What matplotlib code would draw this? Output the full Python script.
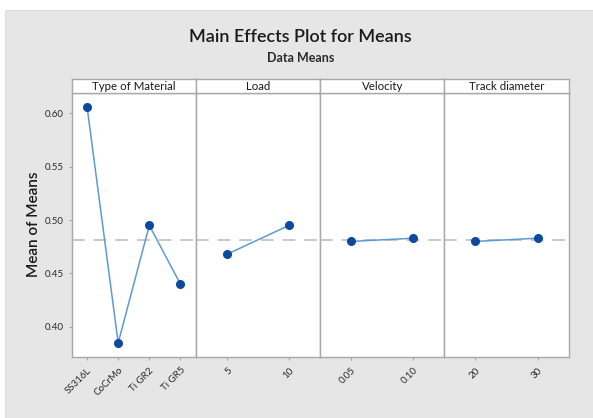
import numpy as np
import matplotlib.pyplot as plt
from matplotlib.patches import Rectangle

plt.rcParams['font.family'] = ['Lato', 'DejaVu Sans']

# factor levels and response means
materials = ["SS316L", "CoCrMo", "Ti GR2", "Ti GR5"]
material_means = [0.606, 0.385, 0.495, 0.440]
load_levels = ["5", "10"]
load_means = [0.468, 0.495]
velocity_levels = ["0.05", "0.10"]
velocity_means = [0.480, 0.483]
track_levels = ["20", "30"]
track_means = [0.480, 0.483]
grand_mean = 0.4815

factors = ["Type of Material", "Load", "Velocity", "Track diameter"]
levels = [materials, load_levels, velocity_levels, track_levels]
means = [material_means, load_means, velocity_means, track_means]

W, H = 593, 418
fig = plt.figure(figsize=(W / 100, H / 100), dpi=100, facecolor='white')

bg = '#e6e6e6'
fig.patches.append(Rectangle((5 / W, 0), 1, 1 - 10 / H, transform=fig.transFigure,
                             facecolor=bg, edgecolor='#dadada', lw=0.6, zorder=-10))

fig.text(300 / W, 1 - 37 / H, "Main Effects Plot for Means", ha='center', va='center',
         fontsize=13, fontweight='semibold', color='#1a1a1a')
fig.text(301 / W, 1 - 58 / H, "Data Means", ha='center', va='center',
         fontsize=9, fontweight='bold', color='#2a2a2a')

edges = [71.5, 196, 320, 444.5, 568.5]
top, bottom, strip_top = 92.7, 356.7, 79
frame = '#a8a8a8'

for i in range(4):
    x0 = edges[i] / W
    w = (edges[i + 1] - edges[i]) / W
    ax = fig.add_axes([x0, 1 - bottom / H, w, (bottom - top) / H])
    n = len(levels[i])
    xs = np.arange(n)
    ax.axhline(grand_mean, color='#c4c4c4', lw=1.3, dashes=(7, 5), zorder=1)
    ax.plot(xs, means[i], color='#5b9bd5', lw=1.1, zorder=2)
    ax.plot(xs, means[i], 'o', color='#0b4a9e', ms=5.5, zorder=3)
    ax.set_xlim(-0.5, n - 0.5)
    ax.set_ylim(0.372, 0.6193)
    ax.set_xticks(xs)
    ax.set_xticklabels(levels[i], rotation=45, ha='right', rotation_mode='anchor',
                       fontsize=7, color='#2a2a2a')
    ax.tick_params(axis='x', length=2.5, color=frame, pad=4)
    if i == 0:
        ax.set_yticks([0.40, 0.45, 0.50, 0.55, 0.60])
        ax.set_yticklabels(["0.40", "0.45", "0.50", "0.55", "0.60"], fontsize=7, color='#2a2a2a')
        ax.tick_params(axis='y', length=2.5, color=frame, pad=3)
        ax.set_ylabel("Mean of Means", fontsize=11, fontweight='semibold',
                      color='#1a1a1a', labelpad=3)
    else:
        ax.set_yticks([])
    for s in ax.spines.values():
        s.set_color(frame)
        s.set_linewidth(1.0)

    # header strip with the factor name
    hx = fig.add_axes([x0, 1 - top / H, w, (top - strip_top) / H])
    hx.set_xticks([])
    hx.set_yticks([])
    hx.set_facecolor('white')
    for s in hx.spines.values():
        s.set_color(frame)
        s.set_linewidth(1.0)
    hx.text(0.5, 0.45, factors[i], ha='center', va='center', fontsize=8.3,
            color='#1a1a1a', transform=hx.transAxes)

fig.savefig("out.png", dpi=100, facecolor='white')
